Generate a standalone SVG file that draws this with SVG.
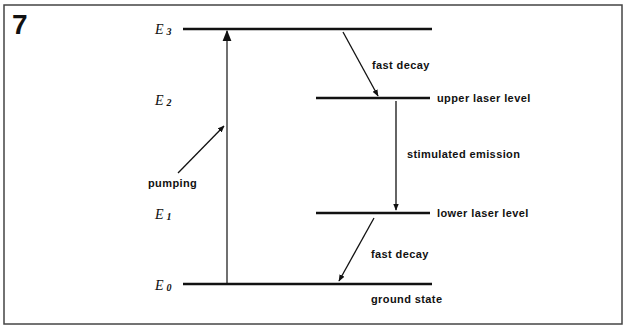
<svg xmlns="http://www.w3.org/2000/svg" width="627" height="328" viewBox="0 0 627 328">
<style>
.lvl{stroke:#111;stroke-width:2.6;fill:none}
.arr{stroke:#111;stroke-width:1.3;fill:none;marker-end:url(#ah)}
.lbl{font-family:"Liberation Sans",Arial,sans-serif;font-weight:bold;font-size:11px;letter-spacing:0.4px;fill:#111}
.en{font-family:"Liberation Serif","Times New Roman",serif;font-style:italic;font-size:14px;fill:#111}
.sub{font-family:"Liberation Serif","Times New Roman",serif;font-size:10px;font-weight:bold;fill:#111}
</style>
<defs>
<marker id="ah" viewBox="0 0 10 10" refX="9" refY="5" markerWidth="7" markerHeight="7" orient="auto" markerUnits="userSpaceOnUse">
<path d="M0,1 L10,5 L0,9 Z" fill="#111"/>
</marker>
<marker id="ahb" viewBox="0 0 10 10" refX="9" refY="5" markerWidth="11" markerHeight="11" orient="auto" markerUnits="userSpaceOnUse">
<path d="M0,1 L10,5 L0,9 Z" fill="#111"/>
</marker>
</defs>
<rect x="0" y="0" width="627" height="328" fill="#fff"/>
<rect x="4" y="5" width="618" height="319" fill="none" stroke="#444" stroke-width="1.5"/>
<text x="12" y="34" font-family="Liberation Sans,Arial,sans-serif" font-weight="bold" font-size="28" fill="#111">7</text>

<g id="E3">
<line class="lvl" x1="183" y1="29" x2="432" y2="29"/>
<text class="en" x="155" y="34">E<tspan class="sub" dx="3" dy="1">3</tspan></text>
</g>
<g id="E2">
<line class="lvl" x1="316" y1="98" x2="430" y2="98"/>
<text class="en" x="155" y="105">E<tspan class="sub" dx="3" dy="1">2</tspan></text>
<text class="lbl" x="437" y="102">upper laser level</text>
</g>
<g id="E1">
<line class="lvl" x1="316" y1="213" x2="430" y2="213"/>
<text class="en" x="155" y="219">E<tspan class="sub" dx="3" dy="1">1</tspan></text>
<text class="lbl" x="437" y="217">lower laser level</text>
</g>
<g id="E0">
<line class="lvl" x1="183" y1="284" x2="432" y2="284"/>
<text class="en" x="155" y="290">E<tspan class="sub" dx="3" dy="1">0</tspan></text>
<text class="lbl" x="371" y="303">ground state</text>
</g>

<g id="connectors">
<line x1="227" y1="283" x2="227" y2="31" stroke="#111" stroke-width="1.2" marker-end="url(#ahb)"/>
<line class="arr" x1="178" y1="173" x2="224" y2="126"/>
<line class="arr" x1="343" y1="32" x2="378" y2="96"/>
<line class="arr" x1="396" y1="101" x2="396" y2="210"/>
<line class="arr" x1="374" y1="218" x2="339" y2="281"/>
</g>
<g id="labels">
<text class="lbl" x="148" y="187">pumping</text>
<text class="lbl" x="372" y="69">fast decay</text>
<text class="lbl" x="407" y="158">stimulated emission</text>
<text class="lbl" x="371" y="258">fast decay</text>
</g>
</svg>
